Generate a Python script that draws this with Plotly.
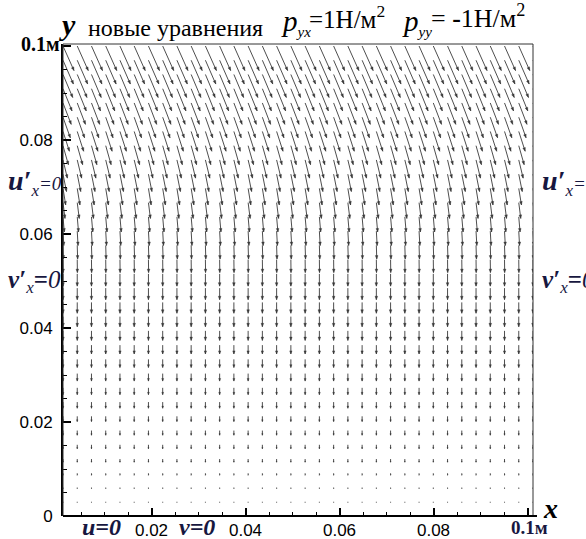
import plotly.graph_objects as go
import math

# ---------------- data ----------------
# grid nodes (m)
grid_x = [0.0, 0.00303, 0.00606, 0.00909, 0.01212, 0.01515, 0.01818, 0.02121, 0.02424,
          0.02727, 0.0303, 0.03333, 0.03636, 0.03939, 0.04242, 0.04545, 0.04848, 0.05152,
          0.05455, 0.05758, 0.06061, 0.06364, 0.06667, 0.0697, 0.07273, 0.07576, 0.07879,
          0.08182, 0.08485, 0.08788, 0.09091, 0.09394, 0.09697, 0.1]
grid_y = [0.0, 0.00303, 0.00606, 0.00909, 0.01212, 0.01515, 0.01818, 0.02121, 0.02424,
          0.02727, 0.0303, 0.03333, 0.03636, 0.03939, 0.04242, 0.04545, 0.04848, 0.05152,
          0.05455, 0.05758, 0.06061, 0.06364, 0.06667, 0.0697, 0.07273, 0.07576, 0.07879,
          0.08182, 0.08485, 0.08788, 0.09091, 0.09394, 0.09697, 0.1]
# velocity components per row (bottom -> top), arbitrary units
u_row = [0, 0, 0, 0, 0, 0, 0, 0, 0, 0, 0, 0, 0, 0, 0, 0, 0, 0,
         0.15, 0.4, 0.8, 1.3, 2.0, 2.7, 3.5, 4.4, 5.4, 6.4, 7.3, 8.2, 9.0, 9.7, 10.4, 11.0]
v_row = [0, -0.8, -1.2, -2.0, -3.2, -4.0, -4.7, -5.3, -6.2, -6.9, -7.5, -8.2, -8.9, -9.6,
         -10.2, -10.9, -11.6, -12.3, -13.0, -13.7, -14.4, -15.1, -15.8, -16.6, -17.4,
         -18.2, -19.0, -19.8, -20.6, -21.4, -22.2, -23.0, -23.8, -24.6]

x_labels_alias = {"0.1": ""}
y_labels_alias = {"0.1": ""}

# ---------------- layout constants ----------------
W, H = 586, 539
PL, PR, PT, PB = 63, 533, 44, 516          # plot frame in px
PPU = (PR - PL) / 0.1                        # px per data unit
VSCALE = 1.0 / PPU                           # data units per velocity unit
SERIF = "Liberation Serif, Times New Roman, serif"
SANS = "Liberation Sans, Arial, sans-serif"
NAVY = "#17173f"
ARROW = "#3a3a3a"

# ---------------- build arrows ----------------
sx, sy, hx, hy = [], [], [], []
for j, y0 in enumerate(grid_y):
    u, v = u_row[j], v_row[j]
    L = math.hypot(u, v)
    if L == 0:
        continue
    dx, dy = u / L, v / L
    px_, py_ = -dy, dx
    hl = min(3.5, 0.35 * L)
    hw = 0.38 * hl
    for x0 in grid_x:
        tx, ty = x0 + u * VSCALE, y0 + v * VSCALE
        sx += [x0, tx, None]
        sy += [y0, ty, None]
        bx, by = tx - dx * hl * VSCALE, ty - dy * hl * VSCALE
        hx += [tx, bx + px_ * hw * VSCALE, bx - px_ * hw * VSCALE, tx, None]
        hy += [ty, by + py_ * hw * VSCALE, by - py_ * hw * VSCALE, ty, None]

fig = go.Figure()
fig.add_trace(go.Scatter(x=sx, y=sy, mode="lines", line=dict(color=ARROW, width=0.9),
                         hoverinfo="skip", showlegend=False))
fig.add_trace(go.Scatter(x=hx, y=hy, mode="lines", fill="toself", fillcolor=ARROW,
                         line=dict(color=ARROW, width=0.4), hoverinfo="skip",
                         showlegend=False))
fig.add_trace(go.Scatter(x=[], y=[], xaxis="x2", yaxis="y", showlegend=False))

x2_lo = (PL - 57.5) / PPU
x2_hi = (PR - 57.5) / PPU

fig.update_layout(
    width=W, height=H, margin=dict(l=0, r=0, t=0, b=0, autoexpand=False),
    paper_bgcolor="white", plot_bgcolor="white",
    xaxis=dict(domain=[PL / W, PR / W], range=[0, 0.1], showgrid=False, zeroline=False,
               showline=False, showticklabels=False, ticks="", automargin=False),
    xaxis2=dict(domain=[PL / W, PR / W], overlaying="x", anchor="y", side="bottom",
                range=[x2_lo, x2_hi], showgrid=False, zeroline=False, automargin=False,
                showline=False, tickmode="linear", tick0=0, dtick=0.02,
                ticks="inside", ticklen=8, tickwidth=2, tickcolor="black",
                labelalias=x_labels_alias, ticklabelstandoff=2,
                tickfont=dict(family=SANS, size=17, color="black"),
                minor=dict(dtick=0.005, tick0=0, ticks="inside", ticklen=4,
                           tickwidth=1, tickcolor="black", showgrid=False)),
    yaxis=dict(domain=[1 - PB / H, 1 - PT / H], range=[0, (PB - PT) / PPU],
               showgrid=False, zeroline=False, showline=True, linewidth=2,
               linecolor="black", tickmode="linear", tick0=0, dtick=0.02,
               ticks="inside", ticklen=8, tickwidth=2, tickcolor="black",
               labelalias=y_labels_alias, ticklabelstandoff=5, automargin=False,
               tickfont=dict(family=SANS, size=17, color="black"),
               minor=dict(dtick=0.005, tick0=0, ticks="inside", ticklen=4,
                          tickwidth=1, tickcolor="black", showgrid=False)),
)


def P(px, py):
    return px / W, 1 - py / H


# frame and bottom axis line
fig.add_shape(type="rect", xref="paper", yref="paper",
              x0=PL / W, x1=PR / W, y0=1 - PB / H, y1=1 - PT / H,
              line=dict(color="#333333", width=1))
fig.add_shape(type="line", xref="paper", yref="paper",
              x0=PL / W, x1=537 / W, y0=1 - PB / H, y1=1 - PB / H,
              line=dict(color="black", width=2))


def ann(text, px, py, size, family=SERIF, color="black", xanchor="center"):
    x, y = P(px, py)
    fig.add_annotation(text=text, x=x, y=y, xref="paper", yref="paper",
                       xanchor=xanchor, yanchor="middle", showarrow=False,
                       font=dict(family=family, size=size, color=color))


def sub(t, size):
    return "<sub><i><span style='font-size:%dpx'>%s</span></i></sub>" % (size, t)


# title line
ann("<b><i>y</i></b>", 67, 24, 30)
ann("новые уравнения", 86, 28, 24, xanchor="left")
ann("<i>p</i>" + sub("yx", 15), 279, 22, 29, xanchor="left")
ann("=1Н/м<sup>2</sup>", 307, 17, 25, xanchor="left")
ann("<i>p</i>" + sub("yy", 15), 400, 22, 29, xanchor="left")
ann("= <b>-</b>1Н/м<sup>2</sup>", 429, 17, 26, xanchor="left")

# left / right side boundary conditions
ann("<b>0.1м</b>", 40, 44, 20)
for bx in (6, 540):
    ann("<b><i>u′</i></b>" + sub("x", 17) + "<i><span style='font-size:19px'>=0</span></i>",
        bx, 182, 28, color=NAVY, xanchor="left")
    ann("<b><i>v′</i></b>" + sub("x", 17) + "<b>=</b><i>0</i>",
        bx, 281, 25, color=NAVY, xanchor="left")

# bottom
ann("<b><i>u=0</i></b>", 101, 527, 24, color=NAVY)
ann("<b><i>v=0</i></b>", 197, 527, 24, color=NAVY)
ann("<b>0.1м</b>", 529, 527, 19, color=NAVY)
ann("<b><i>x</i></b>", 550, 508, 28)

fig.write_html("out.html", config={"displayModeBar": False},
               post_script="document.body.style.margin='0';"
                           "document.body.style.overflow='hidden';")
